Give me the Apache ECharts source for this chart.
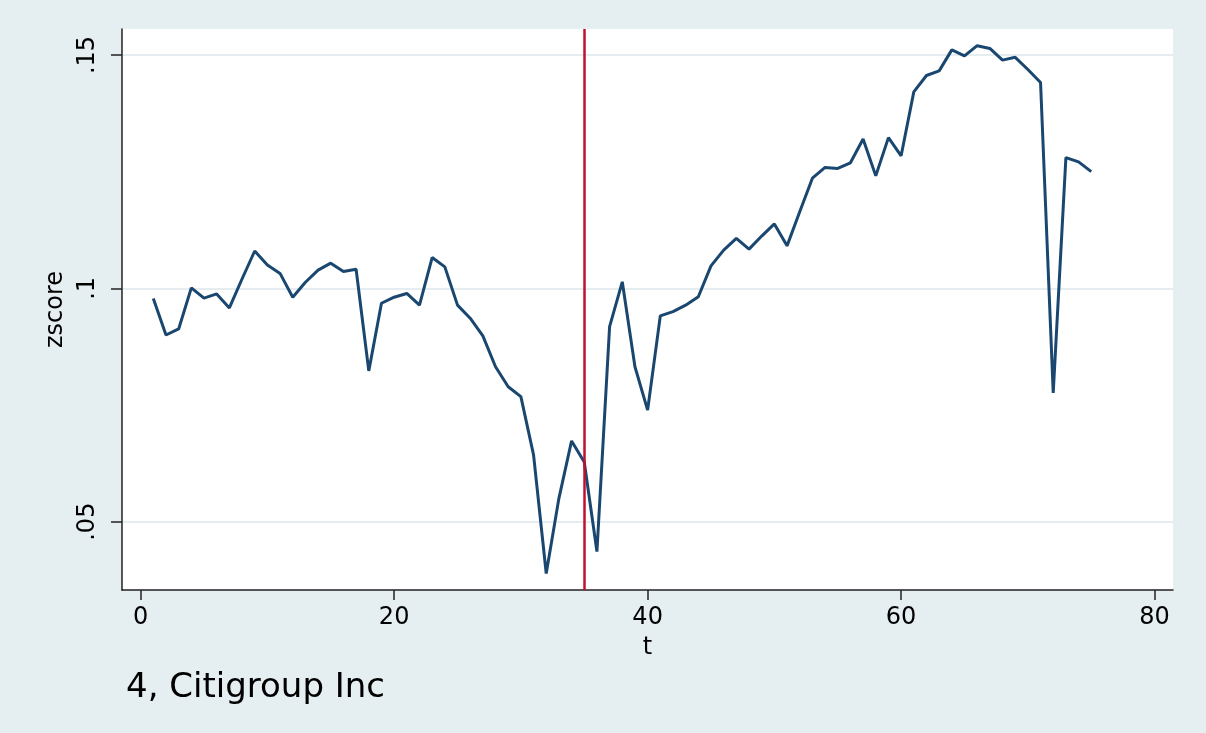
<!DOCTYPE html>
<html>
<head>
<meta charset="utf-8">
<script src="https://cdn.jsdelivr.net/npm/echarts@6/dist/echarts.min.js"></script>
<style>
  html, body { margin: 0; padding: 0; background: #e5eef0; }
  #chart { width: 1206px; height: 733px; }
</style>
</head>
<body>
<div id="chart"></div>
<script>
// Period index t = 1..75
const periods = [];
for (let t = 1; t <= 75; t++) periods.push(t);

// z-score per period
const zscore = [
  0.0978, 0.0900, 0.0913, 0.1001, 0.0979, 0.0988, 0.0958, 0.1020, 0.1080, 0.1050,
  0.1032, 0.0981, 0.1013, 0.1039, 0.1054, 0.1036, 0.1041, 0.0823, 0.0968, 0.0981,
  0.0989, 0.0964, 0.1066, 0.1046, 0.0964, 0.0936, 0.0898, 0.0832, 0.0789, 0.0768,
  0.0643, 0.0389, 0.0550, 0.0673, 0.0628, 0.0436, 0.0918, 0.1014, 0.0832, 0.0739,
  0.0941, 0.0950, 0.0964, 0.0982, 0.1048, 0.1082, 0.1107, 0.1084, 0.1112, 0.1138,
  0.1091, 0.1164, 0.1236, 0.1259, 0.1257, 0.1269, 0.1320, 0.1241, 0.1323, 0.1284,
  0.1421, 0.1456, 0.1466, 0.1511, 0.1498, 0.1520, 0.1514, 0.1489, 0.1495, 0.1469,
  0.1441, 0.0776, 0.1280, 0.1271, 0.1250
];

// Axis tick values
const xTicks = [0, 20, 40, 60, 80];
const yTicks = [0.05, 0.1, 0.15];

// Event marker
const eventT = 35;

const caption = '4, Citigroup Inc';

const FONT = 'DejaVu Sans';

const seriesData = periods.map((t, i) => [t, zscore[i]]);

const chart = echarts.init(document.getElementById('chart'), null, { renderer: 'canvas' });

chart.setOption({
  backgroundColor: '#e5eef0',
  animation: false,
  grid: {
    left: 122, right: 33, top: 29, bottom: 143,
    containLabel: false,
    outerBoundsMode: 'none',
    show: true,
    backgroundColor: '#ffffff',
    borderWidth: 0
  },
  xAxis: {
    type: 'value',
    min: -1.47,
    max: 81.45,
    name: 't',
    nameLocation: 'middle',
    nameGap: 46,
    nameTextStyle: { fontFamily: FONT, fontSize: 24, color: '#000' },
    axisLine: { show: true, onZero: false, lineStyle: { color: '#222', width: 1.5 } },
    axisTick: { show: true, customValues: xTicks, length: 10, lineStyle: { color: '#222', width: 1.5 } },
    axisLabel: {
      customValues: xTicks,
      margin: 16,
      fontFamily: FONT, fontSize: 24, color: '#000'
    },
    splitLine: { show: false }
  },
  yAxis: {
    type: 'value',
    min: 0.03536,
    max: 0.15557,
    name: 'zscore',
    nameLocation: 'middle',
    nameGap: 54,
    nameRotate: 90,
    nameTextStyle: { fontFamily: FONT, fontSize: 24, color: '#000' },
    axisLine: { show: true, onZero: false, lineStyle: { color: '#222', width: 1.5 } },
    axisTick: { show: true, customValues: yTicks, length: 11, lineStyle: { color: '#222', width: 1.5 } },
    axisLabel: {
      customValues: yTicks,
      rotate: 90,
      margin: 22,
      fontFamily: FONT, fontSize: 24, color: '#000',
      formatter: v => String(+v.toFixed(2)).replace(/^0/, '')
    },
    splitLine: { show: true, lineStyle: { color: '#e6edf0', width: 2 } }
  },
  series: [{
    type: 'line',
    data: seriesData,
    showSymbol: false,
    symbol: 'none',
    lineStyle: { color: '#1a476f', width: 3 },
    z: 3,
    markLine: {
      silent: true,
      symbol: ['none', 'none'],
      label: { show: false },
      lineStyle: { color: '#c0102e', width: 2.5, type: 'solid' },
      data: [{ xAxis: eventT }],
      z: 4
    }
  }],
  graphic: [{
    type: 'text',
    left: 126,
    top: 671,
    style: {
      text: caption,
      font: '34px "DejaVu Sans"',
      fill: '#000'
    }
  }]
});
</script>
</body>
</html>
